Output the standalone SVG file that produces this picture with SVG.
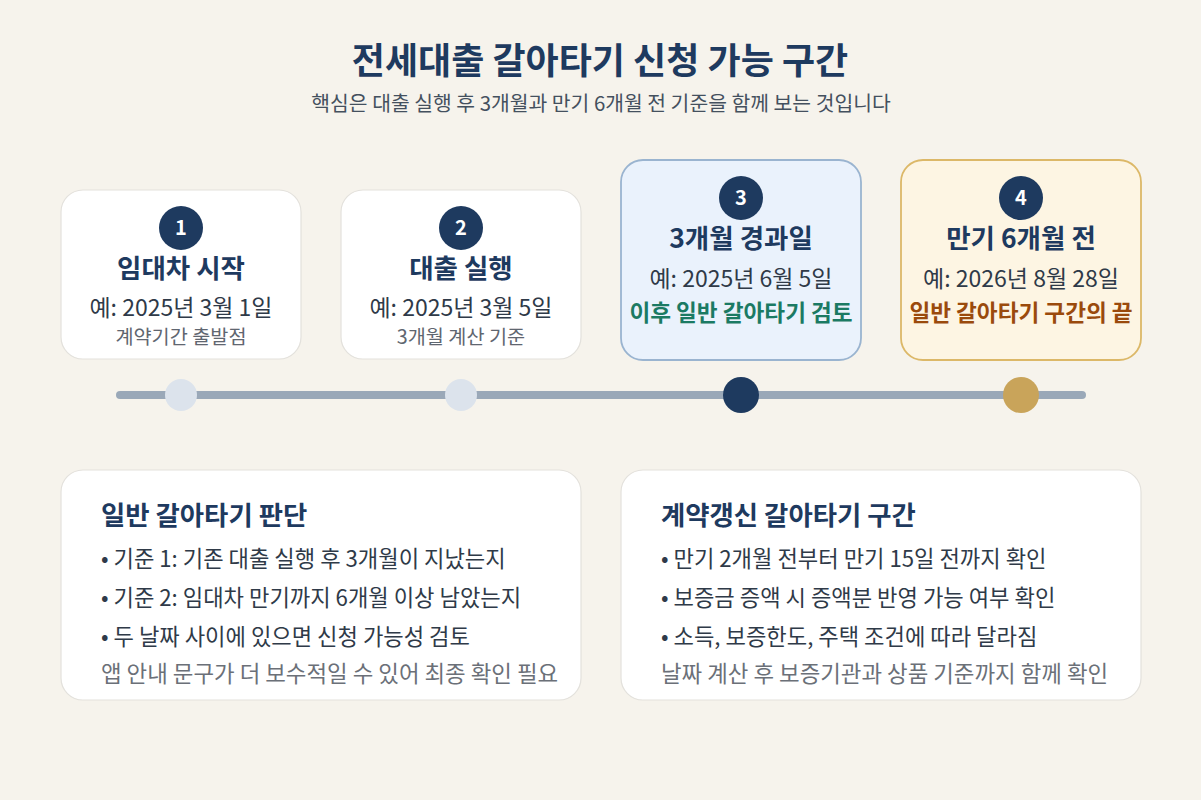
<svg xmlns="http://www.w3.org/2000/svg" width="1201" height="800" viewBox="0 0 1201 800">
<style>
text{font-family:"Noto Sans CJK KR","Noto Sans",sans-serif;}
.t{font-weight:700;fill:#1e3a5f;text-anchor:middle;}
.num{font-weight:700;fill:#ffffff;text-anchor:middle;font-size:20px;}
.ct{font-weight:700;fill:#1e3a5f;text-anchor:middle;font-size:26.5px;}
.dt{fill:#2f3a48;text-anchor:middle;font-size:23px;}
.sb{fill:#5f6670;text-anchor:middle;font-size:19.7px;}
.card{fill:#ffffff;stroke:#e3e1dc;stroke-width:1.2;}
.bh{font-weight:700;fill:#1e3a5f;font-size:26.4px;}
.bl{fill:#2f3a48;font-size:22.2px;}
.ft{fill:#6b7078;font-size:22.4px;}
</style>
<rect width="1201" height="800" fill="#f6f3ec"/>
<text class="t" x="600" y="74" font-size="36">전세대출 갈아타기 신청 가능 구간</text>
<text x="601" y="111" font-size="20.4" fill="#44505e" text-anchor="middle">핵심은 대출 실행 후 3개월과 만기 6개월 전 기준을 함께 보는 것입니다</text>

<g id="node1">
<rect class="card" x="61" y="190" width="240" height="169" rx="22"/>
<circle cx="181" cy="228" r="22" fill="#1e3a5f"/>
<text class="num" x="181" y="235">1</text>
<text class="ct" x="181" y="278">임대차 시작</text>
<text class="dt" x="181" y="316">예: 2025년 3월 1일</text>
<text class="sb" x="181" y="344">계약기간 출발점</text>
</g>
<g id="node2">
<rect class="card" x="341" y="190" width="240" height="169" rx="22"/>
<circle cx="461" cy="228" r="22" fill="#1e3a5f"/>
<text class="num" x="461" y="235">2</text>
<text class="ct" x="461" y="278">대출 실행</text>
<text class="dt" x="461" y="316">예: 2025년 3월 5일</text>
<text class="sb" x="461" y="344">3개월 계산 기준</text>
</g>
<g id="node3">
<rect x="621" y="160" width="240" height="200" rx="22" fill="#eaf2fc" stroke="#9ab4d0" stroke-width="1.8"/>
<circle cx="741" cy="198" r="22" fill="#1e3a5f"/>
<text class="num" x="741" y="205">3</text>
<text class="ct" x="741" y="248">3개월 경과일</text>
<text class="dt" x="741" y="287">예: 2025년 6월 5일</text>
<text x="741" y="321" font-size="22.6" font-weight="700" fill="#1b7a63" text-anchor="middle">이후 일반 갈아타기 검토</text>
</g>
<g id="node4">
<rect x="901" y="160" width="240" height="200" rx="22" fill="#fdf5e3" stroke="#dcb868" stroke-width="1.8"/>
<circle cx="1021" cy="198" r="22" fill="#1e3a5f"/>
<text class="num" x="1021" y="205">4</text>
<text class="ct" x="1021" y="248">만기 6개월 전</text>
<text class="dt" x="1021" y="287">예: 2026년 8월 28일</text>
<text x="1021" y="321" font-size="22.6" font-weight="700" fill="#9a4a0c" text-anchor="middle">일반 갈아타기 구간의 끝</text>
</g>

<g id="connectors">
<line x1="120" y1="395" x2="1082" y2="395" stroke="#9aa8b8" stroke-width="8" stroke-linecap="round"/>
<circle cx="181" cy="395" r="16" fill="#dce3ec"/>
<circle cx="461" cy="395" r="16" fill="#dce3ec"/>
<circle cx="741" cy="395" r="18" fill="#1e3a5f"/>
<circle cx="1021" cy="395" r="18" fill="#c9a45a"/>
</g>

<g id="panel1">
<rect class="card" x="61" y="470" width="520" height="230" rx="22"/>
<text class="bh" x="101" y="525">일반 갈아타기 판단</text>
<text class="bl" x="101" y="567">• 기준 1: 기존 대출 실행 후 3개월이 지났는지</text>
<text class="bl" x="101" y="606">• 기준 2: 임대차 만기까지 6개월 이상 남았는지</text>
<text class="bl" x="101" y="645">• 두 날짜 사이에 있으면 신청 가능성 검토</text>
<text class="ft" x="101" y="682">앱 안내 문구가 더 보수적일 수 있어 최종 확인 필요</text>
</g>
<g id="panel2">
<rect class="card" x="621" y="470" width="520" height="230" rx="22"/>
<text class="bh" x="661" y="525">계약갱신 갈아타기 구간</text>
<text class="bl" x="661" y="567">• 만기 2개월 전부터 만기 15일 전까지 확인</text>
<text class="bl" x="661" y="606">• 보증금 증액 시 증액분 반영 가능 여부 확인</text>
<text class="bl" x="661" y="645">• 소득, 보증한도, 주택 조건에 따라 달라짐</text>
<text class="ft" x="661" y="682">날짜 계산 후 보증기관과 상품 기준까지 함께 확인</text>
</g>
</svg>
